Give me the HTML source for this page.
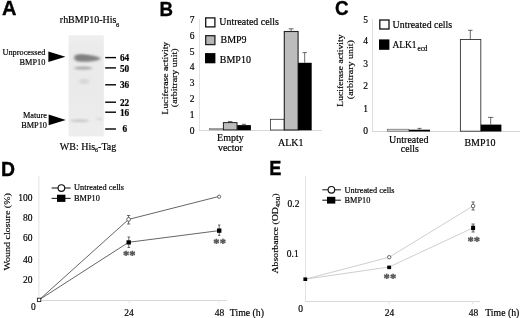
<!DOCTYPE html>
<html>
<head>
<meta charset="utf-8">
<title>Figure</title>
<style>
html,body{margin:0;padding:0;background:#fff;}
body{width:520px;height:318px;overflow:hidden;}
svg{display:block;filter:blur(0.4px);}
text{font-family:"Liberation Serif",serif;fill:#000;stroke:#000;stroke-width:0.18px;}
.lbl{font-family:"Liberation Sans",sans-serif;font-weight:bold;font-size:20px;fill:#000;stroke:#000;stroke-width:0.35px;}
.t10{font-size:10px;}
.t9{font-size:9.5px;}
.t8{font-size:8.3px;}
.mk{font-size:9.3px;font-weight:bold;}
.ax{stroke:#d4d4d4;stroke-width:1;fill:none;}
.ln{stroke:#555;stroke-width:0.9;fill:none;}
.lnE{stroke:#c8c8c8;stroke-width:0.9;fill:none;}
.eb{stroke:#444;stroke-width:0.8;fill:none;}
.star{font-size:12.6px;font-weight:bold;fill:#505050;stroke:#505050;stroke-width:0.35px;letter-spacing:0.1px;}
</style>
</head>
<body>
<svg width="520" height="318" viewBox="0 0 520 318">
<defs>
<filter id="b1" x="-30%" y="-100%" width="160%" height="300%"><feGaussianBlur stdDeviation="1.4 1.0"/></filter>
<filter id="b2" x="-30%" y="-100%" width="160%" height="300%"><feGaussianBlur stdDeviation="1.6 1.0"/></filter>
<filter id="b3" x="-10%" y="-10%" width="120%" height="120%"><feGaussianBlur stdDeviation="0.7"/></filter>
<linearGradient id="gelg" x1="0" y1="0" x2="0" y2="1"><stop offset="0" stop-color="#efefef"/><stop offset="0.12" stop-color="#ebebeb"/><stop offset="0.6" stop-color="#eaeaea"/><stop offset="1" stop-color="#eeeeee"/></linearGradient>
</defs>
<rect x="0" y="0" width="520" height="318" fill="#fff"/>

<!-- ================= Panel A ================= -->
<g id="panelA">
<text class="lbl" x="2" y="15.4">A</text>
<text transform="translate(59.8,22.9) scale(1,1.06)" class="t10">rhBMP10-His<tspan font-size="6.5" dx="-0.4" dy="3.4">6</tspan></text>
<!-- gel -->
<g filter="url(#b3)">
<rect x="68.6" y="35.2" width="35.2" height="101.2" fill="url(#gelg)"/>
</g>
<path d="M74.3,57.6 C74.3,54.2 79,54.2 84,54.4 C90,54.7 96,55.9 100,57.8 C100.6,58.6 100,59.8 97,60.6 C92,61.8 86,62 81,61.8 C76,61.6 74.3,60.6 74.3,57.6 Z" fill="#848484" filter="url(#b1)"/>
<ellipse cx="83" cy="57.4" rx="7" ry="1.6" fill="#7e7e7e" filter="url(#b1)"/>
<ellipse cx="83.2" cy="68.1" rx="9.2" ry="1.5" fill="#a8a8a8" filter="url(#b2)"/>
<ellipse cx="84.2" cy="81.5" rx="5" ry="2.4" fill="#d6d6d6" filter="url(#b2)"/>
<ellipse cx="79.8" cy="120.7" rx="9.6" ry="1.4" fill="#c8c8c8" filter="url(#b2)"/>
<ellipse cx="99.5" cy="119" rx="3.2" ry="1.2" fill="#d6d6d6" filter="url(#b2)"/>
<!-- arrows -->
<polygon points="48.4,51.6 65.4,56.8 48.4,62" fill="#000"/>
<polygon points="48.6,114.5 65.8,119.9 48.6,125.3" fill="#000"/>
<text transform="translate(45.3,55.15) scale(1,1.06)" class="t8" text-anchor="end">Unprocessed</text>
<text transform="translate(45.3,64.55) scale(1,1.06)" class="t8" text-anchor="end">BMP10</text>
<text transform="translate(46.9,118.05) scale(1,1.06)" class="t8" text-anchor="end">Mature</text>
<text transform="translate(47,128.35) scale(1,1.06)" class="t8" text-anchor="end">BMP10</text>
<!-- markers -->
<g stroke="#000" stroke-width="1.4">
<line x1="105.2" y1="57.6" x2="116" y2="57.6"/>
<line x1="105.2" y1="67.9" x2="116" y2="67.9"/>
<line x1="105.2" y1="84.8" x2="116" y2="84.8"/>
<line x1="105.2" y1="102.2" x2="116" y2="102.2"/>
<line x1="105.2" y1="112.2" x2="116" y2="112.2"/>
<line x1="105.2" y1="129" x2="116" y2="129"/>
</g>
<text transform="translate(119.9,61.1)" class="mk">64</text>
<text transform="translate(119.9,71.8)" class="mk">50</text>
<text transform="translate(119.9,88.3)" class="mk">36</text>
<text transform="translate(119.9,105.9)" class="mk">22</text>
<text transform="translate(119.9,115.9)" class="mk">16</text>
<text transform="translate(122.4,132.2)" class="mk">6</text>
<text transform="translate(59.8,150.25) scale(1,1.06)" class="t10">WB: His<tspan font-size="6" dy="1.8">6</tspan><tspan dy="-1.8">-Tag</tspan></text>
</g>

<!-- ================= Panel B ================= -->
<g id="panelB">
<text class="lbl" transform="translate(159.6,15.8) scale(0.935,0.98)">B</text>
<text class="t10" transform="translate(167.5,78.1) rotate(-90) scale(1.02,0.94)" text-anchor="middle" style="font-size:9.55px">Luciferase activity</text>
<text class="t9" transform="translate(176.7,77.8) rotate(-90) scale(1.02,0.94)" text-anchor="middle" style="font-size:9.75px">(arbitrary unit)</text>
<g class="t9" text-anchor="middle">
<text transform="translate(192.1,23.2) scale(1,1.06)">7</text>
<text transform="translate(192.1,39.1) scale(1,1.06)">6</text>
<text transform="translate(192.1,54.7) scale(1,1.06)">5</text>
<text transform="translate(192.1,70.3) scale(1,1.06)">4</text>
<text transform="translate(192.1,86.3) scale(1,1.06)">3</text>
<text transform="translate(192.1,101.85) scale(1,1.06)">2</text>
<text transform="translate(192.1,117.95) scale(1,1.06)">1</text>
<text transform="translate(192.1,134.45) scale(1,1.06)">0</text>
</g>
<path class="ax" d="M199.5,19 V130.5" style="stroke:#e2e2e2"/><path class="ax" d="M199,130.5 H322" style="stroke:#d8d8d8"/>
<!-- legend -->
<rect x="205.7" y="17.9" width="9.2" height="9" fill="#fff" stroke="#111" stroke-width="1.3"/>
<rect x="205.7" y="35.7" width="9.2" height="8.9" fill="#b6b6b6" stroke="#222" stroke-width="1.3"/>
<rect x="205" y="53.1" width="10.4" height="10.2" fill="#000"/>
<text transform="translate(219.3,25.25) scale(1,1.06)" class="t10" style="font-size:9.9px">Untreated cells</text>
<text transform="translate(220.5,43.45) scale(1,1.06)" class="t10">BMP9</text>
<text transform="translate(219.8,62.55) scale(1,1.06)" class="t10">BMP10</text>
<!-- bars group 1 -->
<rect x="209.5" y="128.6" width="13.7" height="1.3" fill="#a8a8a8" stroke="#666" stroke-width="0.5"/>
<rect x="223.4" y="122.6" width="13.6" height="7.3" fill="#bcbcbc" stroke="#222" stroke-width="1"/>
<rect x="237.2" y="125.1" width="13.7" height="5.2" fill="#000"/>
<path class="eb" d="M230.2,122.5 V121.5 M228,121.5 H232.4 M243.9,125.2 V124.3 M241.8,124.3 H246"/>
<!-- bars group 2 -->
<rect x="270.4" y="119.3" width="13.8" height="10.7" fill="#fff" stroke="#333" stroke-width="0.8"/>
<rect x="284.3" y="31.5" width="13.8" height="98.5" fill="#bcbcbc" stroke="#222" stroke-width="1.1"/>
<rect x="298.1" y="62.8" width="13.6" height="67.5" fill="#000"/>
<path class="eb" d="M291.1,31.4 V28.8 M288.6,28.8 H293.6 M304.7,62.8 V52.6 M302.5,52.6 H306.9"/>
<text transform="translate(230.4,141.25) scale(1,1.06)" class="t10" text-anchor="middle">Empty</text>
<text transform="translate(230.4,150.85) scale(1,1.06)" class="t10" text-anchor="middle">vector</text>
<text transform="translate(290.7,146.05) scale(1,1.06)" class="t10" text-anchor="middle">ALK1</text>
</g>

<!-- ================= Panel C ================= -->
<g id="panelC">
<text class="lbl" transform="translate(335,15.05) scale(0.94,0.99)">C</text>
<text class="t10" transform="translate(343.4,70.6) rotate(-90) scale(1.02,0.94)" text-anchor="middle" style="font-size:9.5px">Luciferase activity</text>
<text class="t9" transform="translate(353.2,69.7) rotate(-90) scale(1.02,0.94)" text-anchor="middle" style="font-size:9.77px">(arbitrary unit)</text>
<g class="t9" text-anchor="middle">
<text transform="translate(365.7,23.25) scale(1,1.06)">5</text>
<text transform="translate(365.7,44.35) scale(1,1.06)">4</text>
<text transform="translate(365.7,66.75) scale(1,1.06)">3</text>
<text transform="translate(365.7,88.95) scale(1,1.06)">2</text>
<text transform="translate(365.7,112.4) scale(1,1.06)">1</text>
<text transform="translate(365.7,134.15) scale(1,1.06)">0</text>
</g>
<path class="ax" d="M372.5,19 V131.5" style="stroke:#dedede"/><path class="ax" d="M372,131.5 H520" style="stroke:#d6d6d6"/>
<rect x="379.8" y="20" width="9.2" height="9" fill="#fff" stroke="#111" stroke-width="1.3"/>
<rect x="379" y="39.4" width="10.4" height="10.4" fill="#000"/>
<text transform="translate(392.6,27.95) scale(1,1.06)" class="t10" style="font-size:9.9px">Untreated cells</text>
<text transform="translate(392.5,48.05) scale(1,1.06)" class="t10" style="font-size:9.8px" textLength="24" lengthAdjust="spacingAndGlyphs">ALK1</text><text transform="translate(417.4,51.35) scale(1,1.06)" style="font-size:7.3px">ecd</text>
<!-- group1 -->
<rect x="387.5" y="129.2" width="21.4" height="2" fill="#d8d8d8" stroke="#555" stroke-width="0.6"/>
<rect x="408.9" y="129.7" width="21.1" height="1.8" fill="#000"/>
<path class="eb" d="M419.5,129.6 V128.4 M417.5,128.4 H421.5"/>
<!-- group2 -->
<rect x="460.4" y="39.5" width="20.4" height="91.7" fill="#fff" stroke="#333" stroke-width="0.9"/>
<rect x="480.8" y="124.6" width="20.6" height="6.9" fill="#000"/>
<path class="eb" d="M470.3,39.5 V30.3 M468,30.3 H472.5 M490.7,124.6 V117.4 M488,117.4 H493.4"/>
<text transform="translate(408.8,143.1) scale(1,1.06)" class="t10" text-anchor="middle" style="font-size:10px">Untreated</text>
<text transform="translate(409.8,152.15) scale(1,1.06)" class="t10" text-anchor="middle" style="font-size:9.8px">cells</text>
<text transform="translate(480,146.45) scale(1,1.06)" class="t10" text-anchor="middle">BMP10</text>
</g>

<!-- ================= Panel D ================= -->
<g id="panelD">
<text class="lbl" transform="translate(0.9,175.5) scale(0.97,1)">D</text>
<text class="t9" transform="translate(9.6,231.9) rotate(-90) scale(1.02,0.94)" text-anchor="middle" style="font-size:9.8px">Wound closure (%)</text>
<g class="t9" text-anchor="end">
<text transform="translate(32.4,201.25) scale(1,1.06)">100</text>
<text transform="translate(32.4,220.65) scale(1,1.06)">80</text>
<text transform="translate(32.4,241.3) scale(1,1.06)">60</text>
<text transform="translate(32.4,262.65) scale(1,1.06)">40</text>
<text transform="translate(32.4,282.65) scale(1,1.06)">20</text>
<text transform="translate(35.8,309.75) scale(1,1.06)">0</text>
</g>
<path class="ax" d="M38.9,176 V300.5" style="stroke:#e2e2e2"/><path class="ax" d="M38.4,300.5 H226.5" style="stroke:#d8d8d8"/>
<path class="ax" d="M129.2,300.5 V303.3 M218.8,300.5 V303.3" style="stroke:#e4e4e4"/>
<!-- lines -->
<polyline class="ln" points="39.2,299.8 128.6,219.4 219.1,196.4"/>
<polyline class="ln" points="39.2,299.8 128.6,242.3 219.2,230.6"/>
<path class="eb" d="M128.6,215.5 V224 M127,215.5 H130.2 M127,224 H130.2 M128.8,237 V247.5 M127.5,237 H130.1 M127.5,247.5 H130.1 M219.2,225 V235.4 M218,225 H220.4 M218,235.4 H220.4"/>
<circle cx="128.6" cy="219.4" r="1.9" fill="#fff" stroke="#444" stroke-width="0.8"/>
<circle cx="219.1" cy="196.7" r="1.6" fill="#fff" stroke="#444" stroke-width="0.8"/>
<rect x="126.5" y="240.3" width="4.4" height="4.2" fill="#000"/>
<rect x="217" y="228.5" width="4.4" height="4.3" fill="#000"/>
<rect x="37.4" y="298.2" width="3.4" height="3.4" fill="#fff" stroke="#222" stroke-width="0.9"/>
<text class="star" x="129.3" y="258.65" text-anchor="middle">**</text>
<text class="star" x="219.7" y="246.55" text-anchor="middle">**</text>
<!-- legend -->
<line x1="51.6" y1="188" x2="70.6" y2="188" stroke="#222" stroke-width="1.1"/>
<circle cx="61.4" cy="188" r="3.3" fill="#fff" stroke="#111" stroke-width="1.15"/>
<line x1="51.6" y1="198.4" x2="70.6" y2="198.4" stroke="#222" stroke-width="1.1"/>
<rect x="57" y="194.7" width="8.4" height="7.2" fill="#000"/>
<text transform="translate(74,190.45) scale(1,1.06)" class="t8">Untreated cells</text>
<text transform="translate(74,200.75) scale(1,1.06)" class="t8">BMP10</text>
<text transform="translate(129,315.6) scale(1,1.06)" class="t9" text-anchor="middle">24</text>
<text transform="translate(219.4,315.6) scale(1,1.06)" class="t9" text-anchor="middle">48</text>
<text transform="translate(229.8,315.6) scale(1,1.06)" class="t10" style="font-size:9.8px">Time (h)</text>
</g>

<!-- ================= Panel E ================= -->
<g id="panelE">
<text class="lbl" transform="translate(269.2,175.45) scale(0.91,1.03)">E</text>
<text class="t9" transform="translate(277.6,233.5) rotate(-90) scale(1.02,0.94)" text-anchor="middle" style="font-size:9.56px">Absorbance (OD<tspan font-size="6.8" dy="2.7">450</tspan><tspan dy="-2.7">)</tspan></text>
<g class="t9" text-anchor="end">
<text transform="translate(299.4,206.85) scale(1,1.06)">0.2</text>
<text transform="translate(298.7,256.9) scale(1,1.06)">0.1</text>
<text transform="translate(302.9,311.7) scale(1,1.06)">0</text>
</g>
<path class="ax" d="M305.5,176 V301.5" style="stroke:#e4e4e4"/><path class="ax" d="M305,301.5 H480" style="stroke:#d8d8d8"/>
<path class="ax" d="M389.1,301.5 V304.3 M472.7,301.5 V304.3" style="stroke:#e4e4e4"/>
<polyline class="lnE" points="305.3,279.2 389.2,257.2 473.1,206"/>
<polyline class="lnE" points="305.3,279.2 389.2,267 473.1,227.8"/>
<path class="eb" d="M473.1,202 V210 M471.5,202 H474.7 M471.5,210 H474.7 M473.1,224 V232 M471.5,224 H474.7 M471.5,232 H474.7"/>
<circle cx="389.2" cy="257.2" r="1.7" fill="#fff" stroke="#444" stroke-width="0.8"/>
<circle cx="473.1" cy="206" r="1.8" fill="#fff" stroke="#444" stroke-width="0.8"/>
<rect x="387.2" y="265.6" width="3.9" height="3.5" fill="#000"/>
<rect x="471.1" y="225.7" width="4" height="4.4" fill="#000"/>
<rect x="303.4" y="277.4" width="3.8" height="3.6" fill="#000"/>
<text class="star" x="390" y="281.8" text-anchor="middle">**</text>
<text class="star" x="473.85" y="244.6" text-anchor="middle">**</text>
<line x1="322.3" y1="189.8" x2="340.9" y2="189.8" stroke="#222" stroke-width="1.1"/>
<circle cx="331.4" cy="189.8" r="3.3" fill="#fff" stroke="#111" stroke-width="1.15"/>
<line x1="322.3" y1="200.2" x2="340.9" y2="200.2" stroke="#222" stroke-width="1.1"/>
<rect x="327" y="196.8" width="8.3" height="6.8" fill="#000"/>
<text transform="translate(344.5,192.55) scale(1,1.06)" class="t8">Untreated cells</text>
<text transform="translate(344.5,202.85) scale(1,1.06)" class="t8">BMP10</text>
<text transform="translate(389.4,316.1) scale(1,1.06)" class="t9" text-anchor="middle">24</text>
<text transform="translate(473.4,316.1) scale(1,1.06)" class="t9" text-anchor="middle">48</text>
<text transform="translate(485.2,316.1) scale(1,1.06)" class="t10" style="font-size:9.8px">Time (h)</text>
</g>
</svg>
</body>
</html>
